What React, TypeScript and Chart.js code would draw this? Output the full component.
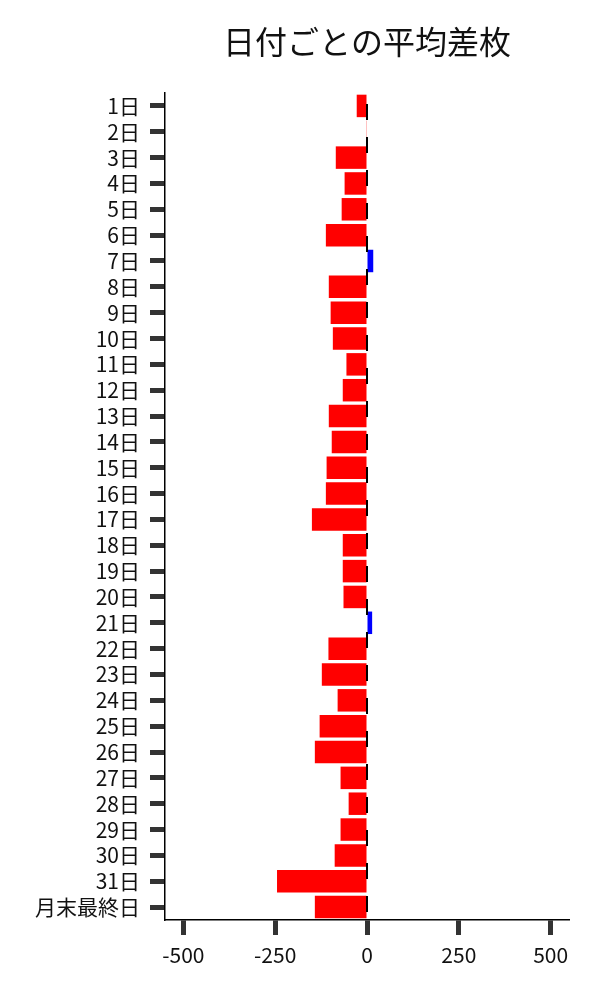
import { useEffect, useRef } from "react"
import { Chart, registerables } from "chart.js"

Chart.register(...registerables)

const titleText = "日付ごとの平均差枚"
const dayLabels = [
  "1日", "2日", "3日", "4日", "5日", "6日", "7日", "8日", "9日", "10日",
  "11日", "12日", "13日", "14日", "15日", "16日", "17日", "18日", "19日", "20日",
  "21日", "22日", "23日", "24日", "25日", "26日", "27日", "28日", "29日", "30日",
  "31日", "月末最終日",
]
const avgDiff = [
  -28, -2, -85, -61, -69, -112, 17, -104, -99, -93,
  -56, -66, -104, -96, -110, -112, -150, -66, -66, -64,
  14, -105, -123, -80, -129, -142, -72, -50, -72, -88,
  -245, -142,
]
const xTickValues = [-500, -250, 0, 250, 500]

const FONT = "'Noto Sans CJK JP', 'Noto Sans', sans-serif"

// dashed zero line + title centred over the plot area
const extras = {
  id: "extras",
  afterDatasetsDraw(chart: any) {
    const { ctx, chartArea, scales } = chart
    const x = scales.x.getPixelForValue(0)
    ctx.save()
    ctx.strokeStyle = "#000"
    ctx.lineWidth = 2
    ctx.setLineDash([16, 17])
    ctx.lineDashOffset = 22
    ctx.beginPath()
    ctx.moveTo(x, chartArea.top)
    ctx.lineTo(x, chartArea.bottom)
    ctx.stroke()
    ctx.restore()
  },
  afterDraw(chart: any) {
    const { ctx, chartArea } = chart
    ctx.save()
    ctx.fillStyle = "#111"
    ctx.font = `32px ${FONT}`
    ctx.textAlign = "center"
    ctx.textBaseline = "middle"
    ctx.fillText(titleText, (chartArea.left + chartArea.right) / 2, 42)
    ctx.restore()
  },
}

const App = () => {
  const canvasRef = useRef<HTMLCanvasElement | null>(null)

  useEffect(() => {
    document.body.style.margin = "0"
    if (!canvasRef.current) return

    const chart = new Chart(canvasRef.current, {
      type: "bar",
      data: {
        labels: dayLabels,
        datasets: [
          {
            data: avgDiff,
            backgroundColor: avgDiff.map((v) => (v < 0 ? "#ff0000" : "#0000ff")),
            barPercentage: 0.87,
            categoryPercentage: 1,
          },
        ],
      },
      options: {
        indexAxis: "y",
        animation: false,
        responsive: true,
        maintainAspectRatio: false,
        layout: { padding: { top: 93, right: 31, left: 0, bottom: 0 } },
        plugins: {
          legend: { display: false },
          tooltip: { enabled: false },
          title: { display: false },
        },
        scales: {
          x: {
            min: -550,
            max: 550,
            afterBuildTicks: (axis: any) => {
              axis.ticks = xTickValues.map((v) => ({ value: v }))
            },
            afterFit: (axis: any) => {
              axis.height = 80
            },
            grid: {
              drawOnChartArea: false,
              drawTicks: true,
              tickLength: 15,
              tickWidth: 5,
              tickColor: "#333",
            },
            border: { display: true, color: "#000", width: 1.5 },
            ticks: {
              color: "#111",
              padding: 7,
              font: { family: FONT, size: 21 },
            },
          },
          y: {
            afterFit: (axis: any) => {
              axis.width = 165
            },
            grid: {
              offset: false,
              drawOnChartArea: false,
              drawTicks: true,
              tickLength: 15,
              tickWidth: 5,
              tickColor: "#333",
            },
            border: { display: true, color: "#000", width: 1.5 },
            ticks: {
              color: "#111",
              padding: 10,
              autoSkip: false,
              font: { family: FONT, size: 21 },
            },
          },
        },
      },
      plugins: [extras],
    })

    return () => {
      chart.destroy()
    }
  }, [])

  return (
    <div style={{ width: 600, height: 1000, position: "relative" }}>
      <canvas ref={canvasRef} />
    </div>
  )
}

export default App
